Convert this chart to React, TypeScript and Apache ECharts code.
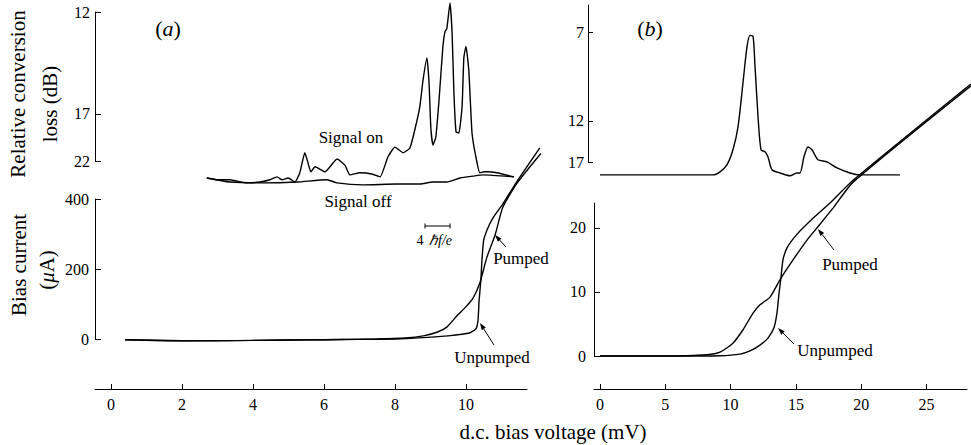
import React, { useEffect, useRef } from "react";
import * as echarts from "echarts";

// ---- scale transform for the conversion-loss axes (dB shown on a power-like scale) ----
const K = 15;
const tr = (db: number) => Math.pow(10, -db / K);
const untr = (t: number) => -K * Math.log10(t);

// ---------------- Panel (a) ----------------
const aXTicks = [0, 2, 4, 6, 8, 10];
const aLossTicks = [12, 17, 22];
const aCurrentTicks = [0, 200, 400];

const aSignalOnV = [2.7, 2.99, 3.35, 3.83, 4.2, 4.48, 4.68, 4.82, 4.99, 5.18, 5.32, 5.46, 5.55, 5.63, 5.75, 6.03, 6.37, 6.59, 6.73, 7.01, 7.35, 7.58, 7.8, 8.0, 8.23, 8.42, 8.56, 8.7, 8.79, 8.9, 8.96, 9.01, 9.07, 9.15, 9.24, 9.35, 9.41, 9.46, 9.55, 9.61, 9.66, 9.72, 9.8, 9.89, 9.94, 10.0, 10.08, 10.17, 10.28, 10.39, 10.52, 10.59, 10.87, 11.35];
const aSignalOnDb = [25.5, 26.0, 26.0, 27.0, 26.7, 26.0, 25.2, 26.0, 25.5, 26.7, 24.2, 20.8, 22.3, 24.0, 23.0, 24.0, 21.7, 22.7, 24.7, 24.2, 24.5, 25.2, 21.4, 20.1, 20.8, 20.2, 18.3, 16.5, 14.9, 13.8, 15.05, 18.1, 19.85, 19.0, 16.1, 13.3, 12.7, 12.6, 11.7, 12.8, 15.6, 18.5, 18.6, 16.5, 13.8, 13.3, 14.4, 18.6, 21.4, 24.2, 24.0, 24.0, 24.2, 25.2];

const aSignalOffV = [2.7, 3.35, 4.28, 5.24, 6.08, 6.37, 7.1, 8.06, 8.7, 9.07, 9.46, 9.83, 10.2, 10.48, 11.35];
const aSignalOffDb = [25.5, 26.7, 27.0, 26.7, 26.0, 27.0, 27.7, 27.4, 27.4, 26.7, 26.7, 25.5, 25.0, 24.7, 25.2];

const aUnpumpedV = [0.4, 2.0, 3.0, 4.0, 5.0, 6.0, 7.0, 8.0, 8.8, 9.5, 10.1, 10.28, 10.34, 10.37, 10.42, 10.45, 10.5, 10.59, 10.76, 11.04, 11.46, 12.08];
const aUnpumpedI = [-2, -5, -5, -4, -3, -2, -1, 0, 4, 9, 17, 29, 54, 111, 169, 226, 283, 311, 346, 386, 454, 546];

const aPumpedV = [0.4, 2.0, 4.0, 6.0, 7.5, 8.3, 8.8, 9.2, 9.46, 9.77, 9.97, 10.2, 10.39, 10.59, 10.82, 11.04, 11.46, 12.11];
const aPumpedI = [-2, -5, -4, -2, 0, 3, 9, 20, 34, 69, 89, 117, 160, 234, 297, 377, 448, 530];

// ---------------- Panel (b) ----------------
const bXTicks = [0, 5, 10, 15, 20, 25];
const bLossTicks = [7, 12, 17];
const bCurrentTicks = [0, 10, 20];

const bConvV = [0, 8.65, 9.19, 9.72, 10.18, 10.57, 10.95, 11.26, 11.49, 11.72, 11.87, 12.1, 12.33, 12.63, 12.86, 13.17, 13.78, 14.55, 15.08, 15.31, 15.62, 15.93, 16.23, 16.69, 17.38, 18.15, 19.14, 19.91, 22.97];
const bConvDb = [19.93, 19.93, 19.1, 17.55, 15.08, 12.5, 9.36, 7.58, 7.12, 7.16, 8.5, 11.65, 15.08, 15.36, 16.1, 18.6, 19.4, 20.2, 19.4, 19.4, 16.1, 14.7, 15.08, 16.6, 16.97, 18.2, 19.4, 19.93, 19.93];

const bUnpumpedV = [0, 5, 9.19, 10.72, 11.49, 12.25, 12.86, 13.32, 13.55, 13.71, 13.86, 14.01, 14.32, 15.08, 16.31, 17.61, 19.4, 28.4];
const bUnpumpedI = [0, 0, 0.05, 0.3, 0.8, 1.7, 2.8, 4.4, 6.7, 9.8, 12.3, 15.0, 16.9, 19.0, 21.5, 23.9, 27.5, 42.5];

const bPumpedV = [0, 5, 8.19, 9.19, 10.18, 10.95, 11.72, 12.25, 13.02, 13.78, 14.78, 15.85, 16.69, 17.84, 19.4, 28.4];
const bPumpedI = [0, 0, 0.2, 0.6, 2.0, 4.1, 6.7, 8.0, 9.2, 11.9, 15.0, 18.1, 20.2, 23.1, 27.2, 42.2];

// unquoted family names (quotes get escaped in the SVG output)
const FONT = "Liberation Serif, Times New Roman, serif";

const zip = (xs: number[], ys: number[], f: (v: number) => number = (v) => v) =>
  xs.map((x, i) => [x, f(ys[i])]);

function arrow(x1: number, y1: number, x2: number, y2: number) {
  const dx = x2 - x1;
  const dy = y2 - y1;
  const len = Math.sqrt(dx * dx + dy * dy);
  const ux = dx / len;
  const uy = dy / len;
  const L = 7;
  const W = 2.4;
  const bx = x2 - ux * L;
  const by = y2 - uy * L;
  return [
    { type: "line", shape: { x1, y1, x2: bx, y2: by }, style: { stroke: "#000", lineWidth: 1 } },
    {
      type: "polygon",
      shape: { points: [[x2, y2], [bx - uy * W, by + ux * W], [bx + uy * W, by - ux * W]] },
      style: { fill: "#000" },
    },
  ];
}

function txt(x: number, y: number, text: string, size: number, extra: any = {}, align = "center", italic = false) {
  return {
    type: "text",
    x,
    y,
    ...extra,
    style: {
      text,
      font: `${italic ? "italic " : ""}${size}px ${FONT}`,
      fill: "#000",
      textAlign: align,
      textVerticalAlign: "middle",
      align,
      verticalAlign: "middle",
    },
  };
}

function richTxt(x: number, y: number, text: string, size: number, rotation = 0) {
  return {
    type: "text",
    x,
    y,
    rotation,
    style: {
      text,
      align: "center",
      verticalAlign: "middle",
      textAlign: "center",
      textVerticalAlign: "middle",
      rich: {
        p: { fontFamily: FONT, fontSize: size, fontStyle: "normal", fill: "#000", color: "#000" },
        i: { fontFamily: FONT, fontSize: size, fontStyle: "italic", fill: "#000", color: "#000" },
      },
    },
  };
}

const axisBase = (extra: any) => ({
  type: "value",
  splitLine: { show: false },
  axisLine: { show: true, onZero: false, lineStyle: { color: "#000", width: 1 } },
  ...extra,
});

const label = (ticks: number[], margin: number, formatter?: (v: number) => string) => ({
  color: "#000",
  fontFamily: FONT,
  fontSize: 16,
  margin,
  customValues: ticks,
  ...(formatter ? { formatter } : {}),
});

const tick = (ticks: number[], length: number) => ({
  show: true,
  inside: true,
  length,
  customValues: ticks,
  lineStyle: { color: "#000", width: 1 },
});

export default function App() {
  const ref = useRef<HTMLDivElement>(null);

  useEffect(() => {
    document.body.style.margin = "0";
    if (!ref.current) return;
    const chart = echarts.init(ref.current, undefined, { renderer: "svg" });

    const lineSeries = (name: string, data: number[][], xi: number, yi: number, smooth: number) => ({
      type: "line",
      name,
      data,
      xAxisIndex: xi,
      yAxisIndex: yi,
      showSymbol: false,
      symbol: "none",
      clip: false,
      smooth,
      lineStyle: { color: "#000", width: 1.4 },
      silent: true,
    });

    const lossFmt = (v: number) => String(Math.round(untr(v)));

    // pixel scales: (a) 35.5 px/mV, (b) 13.06 px/mV
    const aMin = -0.45;
    const aDataMax = aMin + 450 / 35.5;
    const bMax = 28.41;

    const option: any = {
      animation: false,
      backgroundColor: "#fff",
      textStyle: { fontFamily: FONT },
      grid: [
        { left: 95, top: 12, width: 450, height: 149 }, // 0 (a) loss
        { left: 95, top: 199, width: 450, height: 140 }, // 1 (a) current
        { left: 588, top: 5, width: 383, height: 157 }, // 2 (b) loss
        { left: 594, top: 203, width: 377, height: 153 }, // 3 (b) current
        { left: 95, top: 199, width: 432, height: 140 }, // 4 (a) visible voltage axis
        { left: 594, top: 203, width: 373, height: 153 }, // 5 (b) visible voltage axis
      ],
      xAxis: [
        { type: "value", gridIndex: 0, min: aMin, max: aDataMax, show: false },
        { type: "value", gridIndex: 1, min: aMin, max: aDataMax, show: false },
        { type: "value", gridIndex: 2, min: -0.92, max: bMax, show: false },
        { type: "value", gridIndex: 3, min: -0.46, max: bMax, show: false },
        axisBase({
          gridIndex: 4,
          min: aMin,
          max: 11.72,
          position: "bottom",
          offset: 50,
          axisTick: tick(aXTicks, 5),
          axisLabel: label(aXTicks, 7),
        }),
        axisBase({
          gridIndex: 5,
          min: -0.46,
          max: 28.1,
          position: "bottom",
          offset: 33,
          axisTick: tick(bXTicks, 5),
          axisLabel: label(bXTicks, 7),
        }),
      ],
      yAxis: [
        axisBase({
          gridIndex: 0,
          min: tr(22),
          max: tr(12),
          axisTick: tick(aLossTicks.map(tr), 6),
          axisLabel: label(aLossTicks.map(tr), 5, lossFmt),
        }),
        axisBase({
          gridIndex: 1,
          min: 0,
          max: 400,
          axisTick: tick(aCurrentTicks, 6),
          axisLabel: label(aCurrentTicks, 6),
        }),
        axisBase({
          gridIndex: 2,
          min: tr(17),
          max: tr(6),
          axisTick: tick(bLossTicks.map(tr), 5),
          axisLabel: label(bLossTicks.map(tr), 4, lossFmt),
        }),
        axisBase({
          gridIndex: 3,
          min: 0,
          max: 23.9,
          axisTick: tick(bCurrentTicks, 6),
          axisLabel: label(bCurrentTicks, 8),
        }),
        { type: "value", gridIndex: 4, min: 0, max: 1, show: false },
        { type: "value", gridIndex: 5, min: 0, max: 1, show: false },
      ],
      series: [
        lineSeries("Signal on", zip(aSignalOnV, aSignalOnDb, tr), 0, 0, 0.15),
        lineSeries("Signal off", zip(aSignalOffV, aSignalOffDb, tr), 0, 0, 0.2),
        lineSeries("Unpumped (a)", zip(aUnpumpedV, aUnpumpedI), 1, 1, 0.15),
        lineSeries("Pumped (a)", zip(aPumpedV, aPumpedI), 1, 1, 0.2),
        lineSeries("Conversion (b)", zip(bConvV, bConvDb, tr), 2, 2, 0.25),
        lineSeries("Unpumped (b)", zip(bUnpumpedV, bUnpumpedI), 3, 3, 0.2),
        lineSeries("Pumped (b)", zip(bPumpedV, bPumpedI), 3, 3, 0.2),
      ],
      graphic: [
        richTxt(168, 28, "{p|(}{i|a}{p|)}", 22),
        richTxt(650, 28, "{p|(}{i|b}{p|)}", 22),
        txt(18, 94, "Relative conversion", 21, { rotation: Math.PI / 2 }),
        txt(50, 104, "loss (dB)", 21, { rotation: Math.PI / 2 }),
        txt(19, 265, "Bias current", 21, { rotation: Math.PI / 2 }),
        richTxt(47, 270, "{p|(}{i|\u03bc}{p|A)}", 21, Math.PI / 2),
        txt(553, 432, "d.c. bias voltage (mV)", 21),
        txt(351, 137, "Signal on", 17),
        txt(358, 201, "Signal off", 17),
        txt(521, 258, "Pumped", 17),
        txt(492, 357, "Unpumped", 17),
        txt(850, 264, "Pumped", 17),
        txt(835, 350, "Unpumped", 17),
        { type: "line", shape: { x1: 425, y1: 226, x2: 450, y2: 226 }, style: { stroke: "#000", lineWidth: 1 } },
        { type: "line", shape: { x1: 425, y1: 223.5, x2: 425, y2: 228.5 }, style: { stroke: "#000", lineWidth: 1 } },
        { type: "line", shape: { x1: 450, y1: 223.5, x2: 450, y2: 228.5 }, style: { stroke: "#000", lineWidth: 1 } },
        txt(420, 240, "4", 14),
        txt(429, 240, "\u210Ff/e", 14, {}, "left", true),
        ...arrow(506, 247, 495, 235),
        ...arrow(494, 345, 480, 323),
        ...arrow(834, 250, 818, 229),
        ...arrow(794, 344, 778, 328),
      ],
    };

    chart.setOption(option);
    return () => chart.dispose();
  }, []);

  return <div ref={ref} style={{ width: 971, height: 445 }} />;
}
